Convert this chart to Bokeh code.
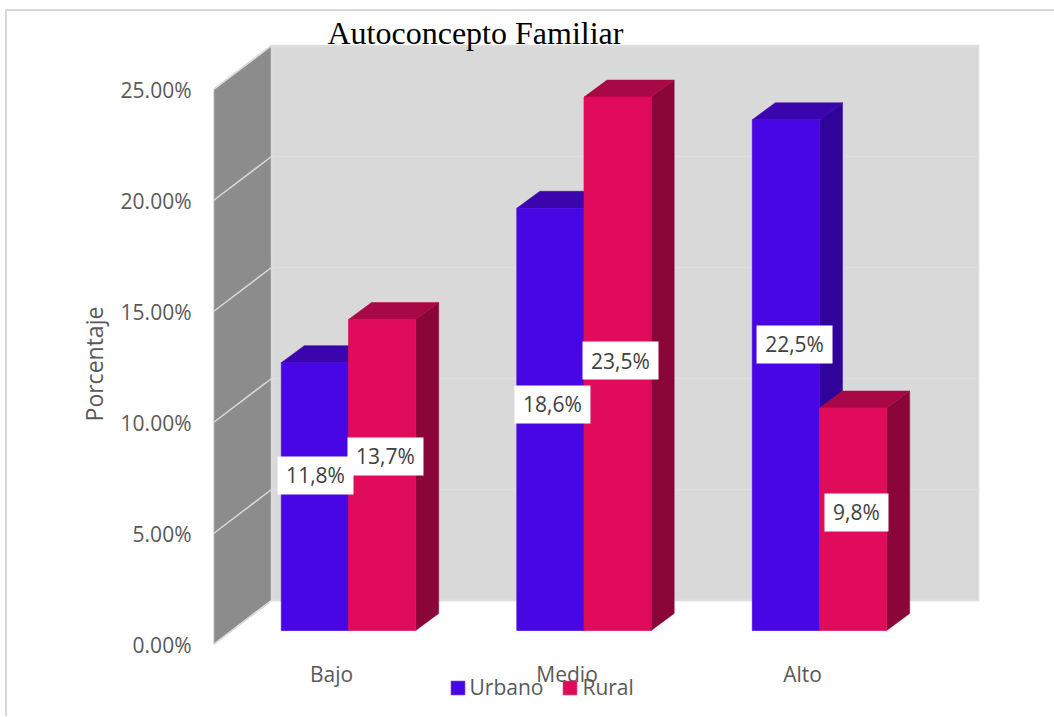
from bokeh.plotting import figure
from bokeh.models import (Range1d, LinearAxis, FixedTicker, Legend, LegendItem)
from bokeh.core.properties import value
from bokeh.embed import file_html
from bokeh.resources import INLINE

# ---- data ----
categories = ["Bajo", "Medio", "Alto"]
urbano = [11.8, 18.6, 22.5]
rural = [13.7, 23.5, 9.8]
urbano_labels = ["11,8%", "18,6%", "22,5%"]
rural_labels = ["13,7%", "23,5%", "9,8%"]
y_ticks = [0, 5, 10, 15, 20, 25]
y_tick_labels = ["0.00%", "5.00%", "10.00%", "15.00%", "20.00%", "25.00%"]
title_text = "Autoconcepto Familiar"
y_title = "\u00a0\u00a0\u00a0Porcentaje"

# label anchors (hand-placed in the original chart), in chart units
urbano_label_x = [-0.140, 0.866, 1.894]
urbano_label_y = [6.83, 9.96, 12.60]
rural_label_x = [0.157, 1.155, 2.157]
rural_label_y = [7.67, 11.89, 5.20]

# ---- styling ----
GREY = "#595959"
FONT = "Open Sans"
U_FRONT, U_TOP, U_SIDE = "#4806e4", "#3a05ad", "#30049a"
R_FRONT, R_TOP, R_SIDE = "#e00b5a", "#a80845", "#8a0638"
WALL_SIDE, WALL_BACK = "#8c8c8c", "#d9d9d9"
BORDER = "#d9d9d9"

FRAME_LEFT, FRAME_RIGHT = 213, 979
FRAME_TOP, FRAME_BOTTOM = 44, 701
CAT_ZERO = 348
PX_X = 235.5                    # frame pixels per category
PX_Y_AXIS = 22.2                # frame pixels per % on the wall axis
PX_Y_BAR = 22.7                 # frame pixels per % on the bars
AXIS_ZERO, BAR_ZERO = 644, 630
X0 = (FRAME_LEFT - CAT_ZERO) / PX_X
X1 = (FRAME_RIGHT - CAT_ZERO) / PX_X
W, H = 1054, 717

p = figure(width=W, height=H, output_backend="svg", toolbar_location=None,
           x_range=Range1d(X0, X1),
           y_range=Range1d(-(FRAME_BOTTOM - AXIS_ZERO) / PX_Y_AXIS, (AXIS_ZERO - FRAME_TOP) / PX_Y_AXIS),
           min_border_left=FRAME_LEFT, min_border_right=W - FRAME_RIGHT,
           min_border_top=FRAME_TOP, min_border_bottom=H - FRAME_BOTTOM,
           x_axis_location=None, y_axis_location=None,
           outline_line_color=None, background_fill_color=None, border_fill_color=None,
           styles={"background-color": "white",
                   "background-image": f"linear-gradient({BORDER},{BORDER}),linear-gradient({BORDER},{BORDER})",
                   "background-size": "1048px 2px,2px 707px",
                   "background-position": "6px 9px,5px 9px",
                   "background-repeat": "no-repeat"})
p.extra_y_ranges["bars"] = Range1d(-(FRAME_BOTTOM - BAR_ZERO) / PX_Y_BAR, (BAR_ZERO - FRAME_TOP) / PX_Y_BAR)
p.grid.visible = False

# ---- title ----
p.title.text = title_text
p.title.text_font = "Liberation Serif"
p.title.text_font_size = "32px"
p.title.text_font_style = "normal"
p.title.text_color = "#000000"
p.title.align = "left"
p.title.offset = 114
p.title.standoff = -12

# ---- axes ----
yaxis = LinearAxis(ticker=FixedTicker(ticks=y_ticks),
                   major_label_overrides=dict(zip(y_ticks, y_tick_labels)),
                   axis_label=y_title, axis_label_text_font=FONT, axis_label_text_font_size="23px",
                   axis_label_text_font_style="normal", axis_label_text_color=GREY, axis_label_standoff=8,
                   major_label_text_font=FONT, major_label_text_font_size="21px", major_label_text_color=GREY,
                   major_label_standoff=22, axis_line_color=None, major_tick_line_color=None,
                   minor_tick_line_color=None, major_tick_out=0, minor_tick_out=0)
p.add_layout(yaxis, "left")

label_shift = -0.072
x_ticks = [round(i + label_shift, 3) for i in range(len(categories))]
xaxis = LinearAxis(ticker=FixedTicker(ticks=x_ticks),
                   major_label_overrides=dict(zip(x_ticks, categories)),
                   major_label_text_font=FONT, major_label_text_font_size="21px", major_label_text_color=GREY,
                   major_label_standoff=-42, axis_line_color=None, major_tick_line_color=None,
                   minor_tick_line_color=None, major_tick_out=0, minor_tick_out=0)
p.add_layout(xaxis, "below")

# ---- walls ----
wall_dx = 58 / PX_X
wall_dy = (AXIS_ZERO - 600) / PX_Y_AXIS
y_top = y_ticks[-1] + wall_dy
p.patch([X0 + wall_dx, X0 + wall_dx, X1 - 0.002, X1 - 0.002],
        [wall_dy, y_top, y_top, wall_dy],
        fill_color=WALL_BACK, line_color="#e4e4e4", line_width=1.5)
p.patch([X0, X0 + wall_dx, X0 + wall_dx, X0],
        [0, wall_dy, y_top, y_ticks[-1]],
        fill_color=WALL_SIDE, line_color="#d9d9d9", line_width=1.5)
p.segment([X0 + wall_dx] * 6, [t + wall_dy for t in y_ticks], [X1] * 6, [t + wall_dy for t in y_ticks],
          line_color="#dedede", line_width=1.5)
p.segment([X0] * 6, y_ticks, [X0 + wall_dx] * 6, [t + wall_dy for t in y_ticks],
          line_color="#d9d9d9", line_width=1.5)

# ---- 3D bars ----
w = 67.2 / PX_X
dx = 23 / PX_X
dy = 17 / PX_Y_BAR


def draw_series(values, offset, front, top, side):
    lefts = [i + offset for i in range(len(values))]
    rights = [l + w for l in lefts]
    p.patches([[r, r + dx, r + dx, r] for r in rights],
              [[0, dy, v + dy, v] for v in values],
              fill_color=side, line_color=side, line_width=0.5, y_range_name="bars")
    p.patches([[l, l + dx, r + dx, r] for l, r in zip(lefts, rights)],
              [[v, v + dy, v + dy, v] for v in values],
              fill_color=top, line_color=top, line_width=0.5, y_range_name="bars")
    return p.vbar(x=[l + w / 2 for l in lefts], top=values, bottom=0, width=w,
                  fill_color=front, line_color=front, line_width=0.7, y_range_name="bars")


r_u = draw_series(urbano, -w, U_FRONT, U_TOP, U_SIDE)
r_r = draw_series(rural, 0, R_FRONT, R_TOP, R_SIDE)

# ---- data labels ----
for xs, ys, texts in ((urbano_label_x, urbano_label_y, urbano_labels),
                      (rural_label_x, rural_label_y, rural_labels)):
    widths = [12 * len(t) + 16 for t in texts]
    p.rect(x=xs, y=ys, width=widths, height=38, width_units="screen", height_units="screen",
           fill_color="white", line_color=None, y_range_name="bars")
    p.text(x=xs, y=ys, text=texts, text_align="center", text_baseline="middle",
           text_font=value(FONT), text_font_size="21px", text_color="#404040", y_range_name="bars")

# ---- legend ----
legend = Legend(items=[LegendItem(label="Urbano", renderers=[r_u]), LegendItem(label="Rural", renderers=[r_r])],
                orientation="horizontal", location=(448.5 - FRAME_LEFT, 0), padding=0, margin=0, spacing=18,
                glyph_width=17, glyph_height=17, label_standoff=4,
                label_text_font=FONT, label_text_font_size="21px", label_text_color=GREY,
                border_line_color=None, background_fill_alpha=0)
p.add_layout(legend, "center")

open("out.html", "w").write(file_html(p, INLINE))
